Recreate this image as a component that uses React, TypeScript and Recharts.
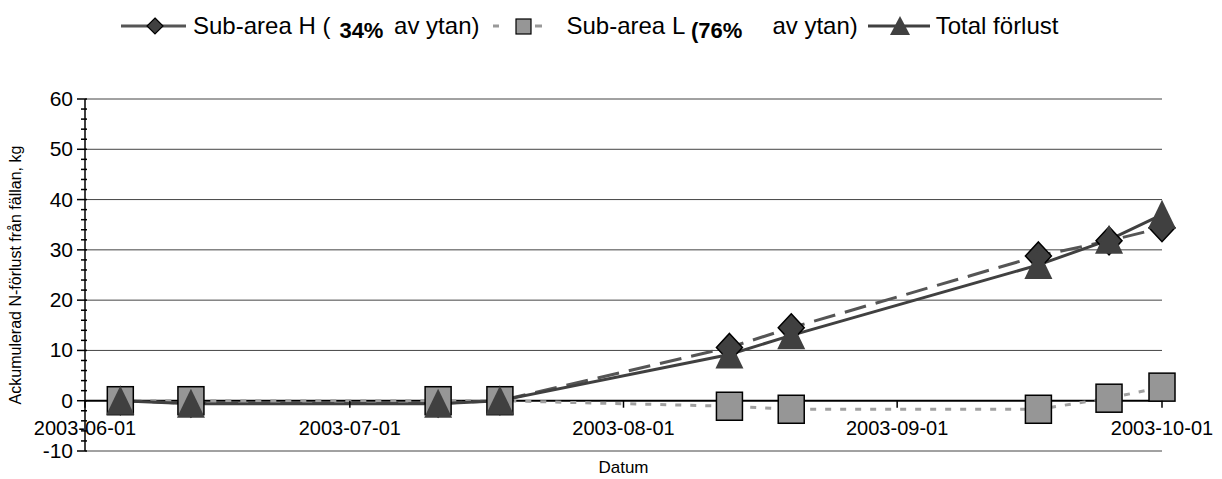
import { LineChart, Line, XAxis, YAxis, ReferenceLine } from 'recharts';

const sampleDates = [
  '2003-06-05', '2003-06-13', '2003-07-11', '2003-07-18', '2003-08-13',
  '2003-08-20', '2003-09-17', '2003-09-25', '2003-10-01',
];
const subAreaH = [0, -0.5, -0.5, 0, 10.6, 14.5, 28.8, 31.8, 34.4];
const subAreaL = [0, 0, 0, 0, -1.1, -1.7, -1.7, 0.5, 2.7];
const totalLoss = [0, -0.6, -0.6, 0, 9.2, 13, 27, 32, 37];

const xTickDates = ['2003-06-01', '2003-07-01', '2003-08-01', '2003-09-01', '2003-10-01'];
const yMajorTicks = [-10, 0, 10, 20, 30, 40, 50, 60];

const FONT = '"Liberation Sans", Arial, sans-serif';
const W = 1222;
const H = 479;
const MARGIN = { top: 99, right: 60, bottom: 0, left: 0 };
const Y_AXIS_W = 85;
const X_AXIS_H = 28;
const Y_MIN = -10;
const Y_MAX = 60;
const plotH = H - MARGIN.top - MARGIN.bottom - X_AXIS_H;
const zeroY = MARGIN.top + ((Y_MAX - 0) / (Y_MAX - Y_MIN)) * plotH;

const toTime = (d: string) => {
  const [y, m, day] = d.split('-').map(Number);
  return Date.UTC(y, m - 1, day);
};

const data = sampleDates.map((d, i) => ({
  t: toTime(d),
  h: subAreaH[i],
  l: subAreaL[i],
  total: totalLoss[i],
}));

const xTicks = xTickDates.map(toTime);
const yTicks: number[] = [];
for (let v = Y_MIN; v <= Y_MAX; v += 2) yTicks.push(v);

const fmtDate = (t: number) => new Date(t).toISOString().slice(0, 10);

function Diamond({ cx, cy }: any) {
  if (cx == null || cy == null) return null;
  return (
    <polygon
      points={`${cx},${cy - 14} ${cx + 13},${cy} ${cx},${cy + 14} ${cx - 13},${cy}`}
      fill="#404040"
      stroke="#000"
      strokeWidth={1.5}
    />
  );
}

function Square({ cx, cy }: any) {
  if (cx == null || cy == null) return null;
  return (
    <rect x={cx - 13} y={cy - 14} width={26} height={28} fill="#969696" stroke="#000" strokeWidth={1.5} />
  );
}

function Triangle({ cx, cy }: any) {
  if (cx == null || cy == null) return null;
  return (
    <polygon points={`${cx},${cy - 15} ${cx + 14},${cy + 14} ${cx - 14},${cy + 14}`} fill="#404040" />
  );
}

function XTick({ x, payload }: any) {
  return (
    <g>
      <line x1={x} x2={x} y1={zeroY} y2={zeroY + 7} stroke="#000" strokeWidth={1.5} />
      <text x={x} y={zeroY + 34} textAnchor="middle" fontSize={20} fontFamily={FONT} fill="#000">
        {fmtDate(payload.value)}
      </text>
    </g>
  );
}

function YTick({ x, y, payload }: any) {
  const major = yMajorTicks.includes(payload.value);
  return (
    <g>
      <line x1={x - (major ? 8 : 4)} x2={x + 2} y1={y} y2={y} stroke="#000" strokeWidth={1.5} />
      {major && (
        <text x={x - 12} y={y + 7} textAnchor="end" fontSize={21} fontFamily={FONT} fill="#000">
          {payload.value}
        </text>
      )}
    </g>
  );
}

function YLabel({ viewBox }: any) {
  const x = viewBox.x + 21;
  const y = viewBox.y + viewBox.height / 2;
  return (
    <text
      x={x}
      y={y}
      transform={`rotate(-90, ${x}, ${y})`}
      textAnchor="middle"
      fontSize={16}
      fontFamily={FONT}
      fill="#000"
    >
      Ackumulerad N-förlust från fällan, kg
    </text>
  );
}

function LegendRow() {
  const bold = {
    fontWeight: 700,
    fontSize: 22,
    position: 'relative' as const,
    top: 5,
  };
  return (
    <div
      style={{
        position: 'absolute',
        top: 11,
        left: 121,
        display: 'flex',
        alignItems: 'center',
        fontFamily: FONT,
        fontSize: 24,
        color: '#000',
        whiteSpace: 'pre',
      }}
    >
      <svg width={65} height={30}>
        <line x1={0} x2={65} y1={15} y2={15} stroke="#555" strokeWidth={3} />
        <polygon points="34,7 42,15 34,23 26,15" fill="#404040" stroke="#000" strokeWidth={1.2} />
      </svg>
      <span style={{ marginLeft: 7 }}>Sub-area H (</span>
      <span style={{ ...bold, marginLeft: 9 }}>34%</span>
      <span style={{ marginLeft: 4 }}> av ytan)</span>
      <svg width={49} height={30} style={{ marginLeft: 14 }}>
        <line x1={0} x2={6} y1={15} y2={15} stroke="#999" strokeWidth={3} />
        <rect x={23} y={8} width={15} height={15} fill="#969696" stroke="#000" strokeWidth={1.2} />
        <line x1={42} x2={49} y1={15} y2={15} stroke="#999" strokeWidth={3} />
      </svg>
      <span style={{ marginLeft: 24 }}>Sub-area L </span>
      <span style={bold}>(76%</span>
      <span style={{ marginLeft: 30 }}>av ytan)</span>
      <svg width={62} height={30} style={{ marginLeft: 10 }}>
        <line x1={0} x2={62} y1={15} y2={15} stroke="#404040" strokeWidth={3} />
        <polygon points="32,5 42,24 22,24" fill="#404040" />
      </svg>
      <span style={{ marginLeft: 6 }}>Total förlust</span>
    </div>
  );
}

export default function App() {
  return (
    <div style={{ position: 'absolute', left: 0, top: 0, width: W, height: H, background: '#fff' }}>
      <LegendRow />
      <LineChart width={W} height={H} data={data} margin={MARGIN}>
        {yMajorTicks.filter((v) => v !== 0).map((v) => (
          <ReferenceLine key={v} y={v} stroke="#444" strokeWidth={1} />
        ))}
        <ReferenceLine y={0} stroke="#000" strokeWidth={2} />
        <XAxis
          dataKey="t"
          type="number"
          domain={[xTicks[0], xTicks[xTicks.length - 1]]}
          ticks={xTicks}
          interval={0}
          height={X_AXIS_H}
          axisLine={false}
          tickLine={false}
          tick={<XTick />}
          label={{ value: 'Datum', position: 'insideBottom', offset: 6, fontSize: 17, fontFamily: FONT, fill: '#000' }}
        />
        <YAxis
          type="number"
          domain={[Y_MIN, Y_MAX]}
          ticks={yTicks}
          interval={0}
          width={Y_AXIS_W}
          tickSize={0}
          tickMargin={0}
          tickLine={false}
          axisLine={{ stroke: '#000', strokeWidth: 1.5 }}
          tick={<YTick />}
          label={<YLabel />}
        />
        <Line
          dataKey="h"
          stroke="#555"
          strokeWidth={3}
          strokeDasharray="22 10"
          dot={(p: any) => <Diamond key={`d${p.index}`} {...p} />}
          isAnimationActive={false}
        />
        <Line
          dataKey="l"
          stroke="#a0a0a0"
          strokeWidth={3}
          strokeDasharray="6 9"
          dot={(p: any) => <Square key={`s${p.index}`} {...p} />}
          isAnimationActive={false}
        />
        <Line
          dataKey="total"
          stroke="#404040"
          strokeWidth={3}
          dot={(p: any) => <Triangle key={`t${p.index}`} {...p} />}
          isAnimationActive={false}
        />
      </LineChart>
    </div>
  );
}
